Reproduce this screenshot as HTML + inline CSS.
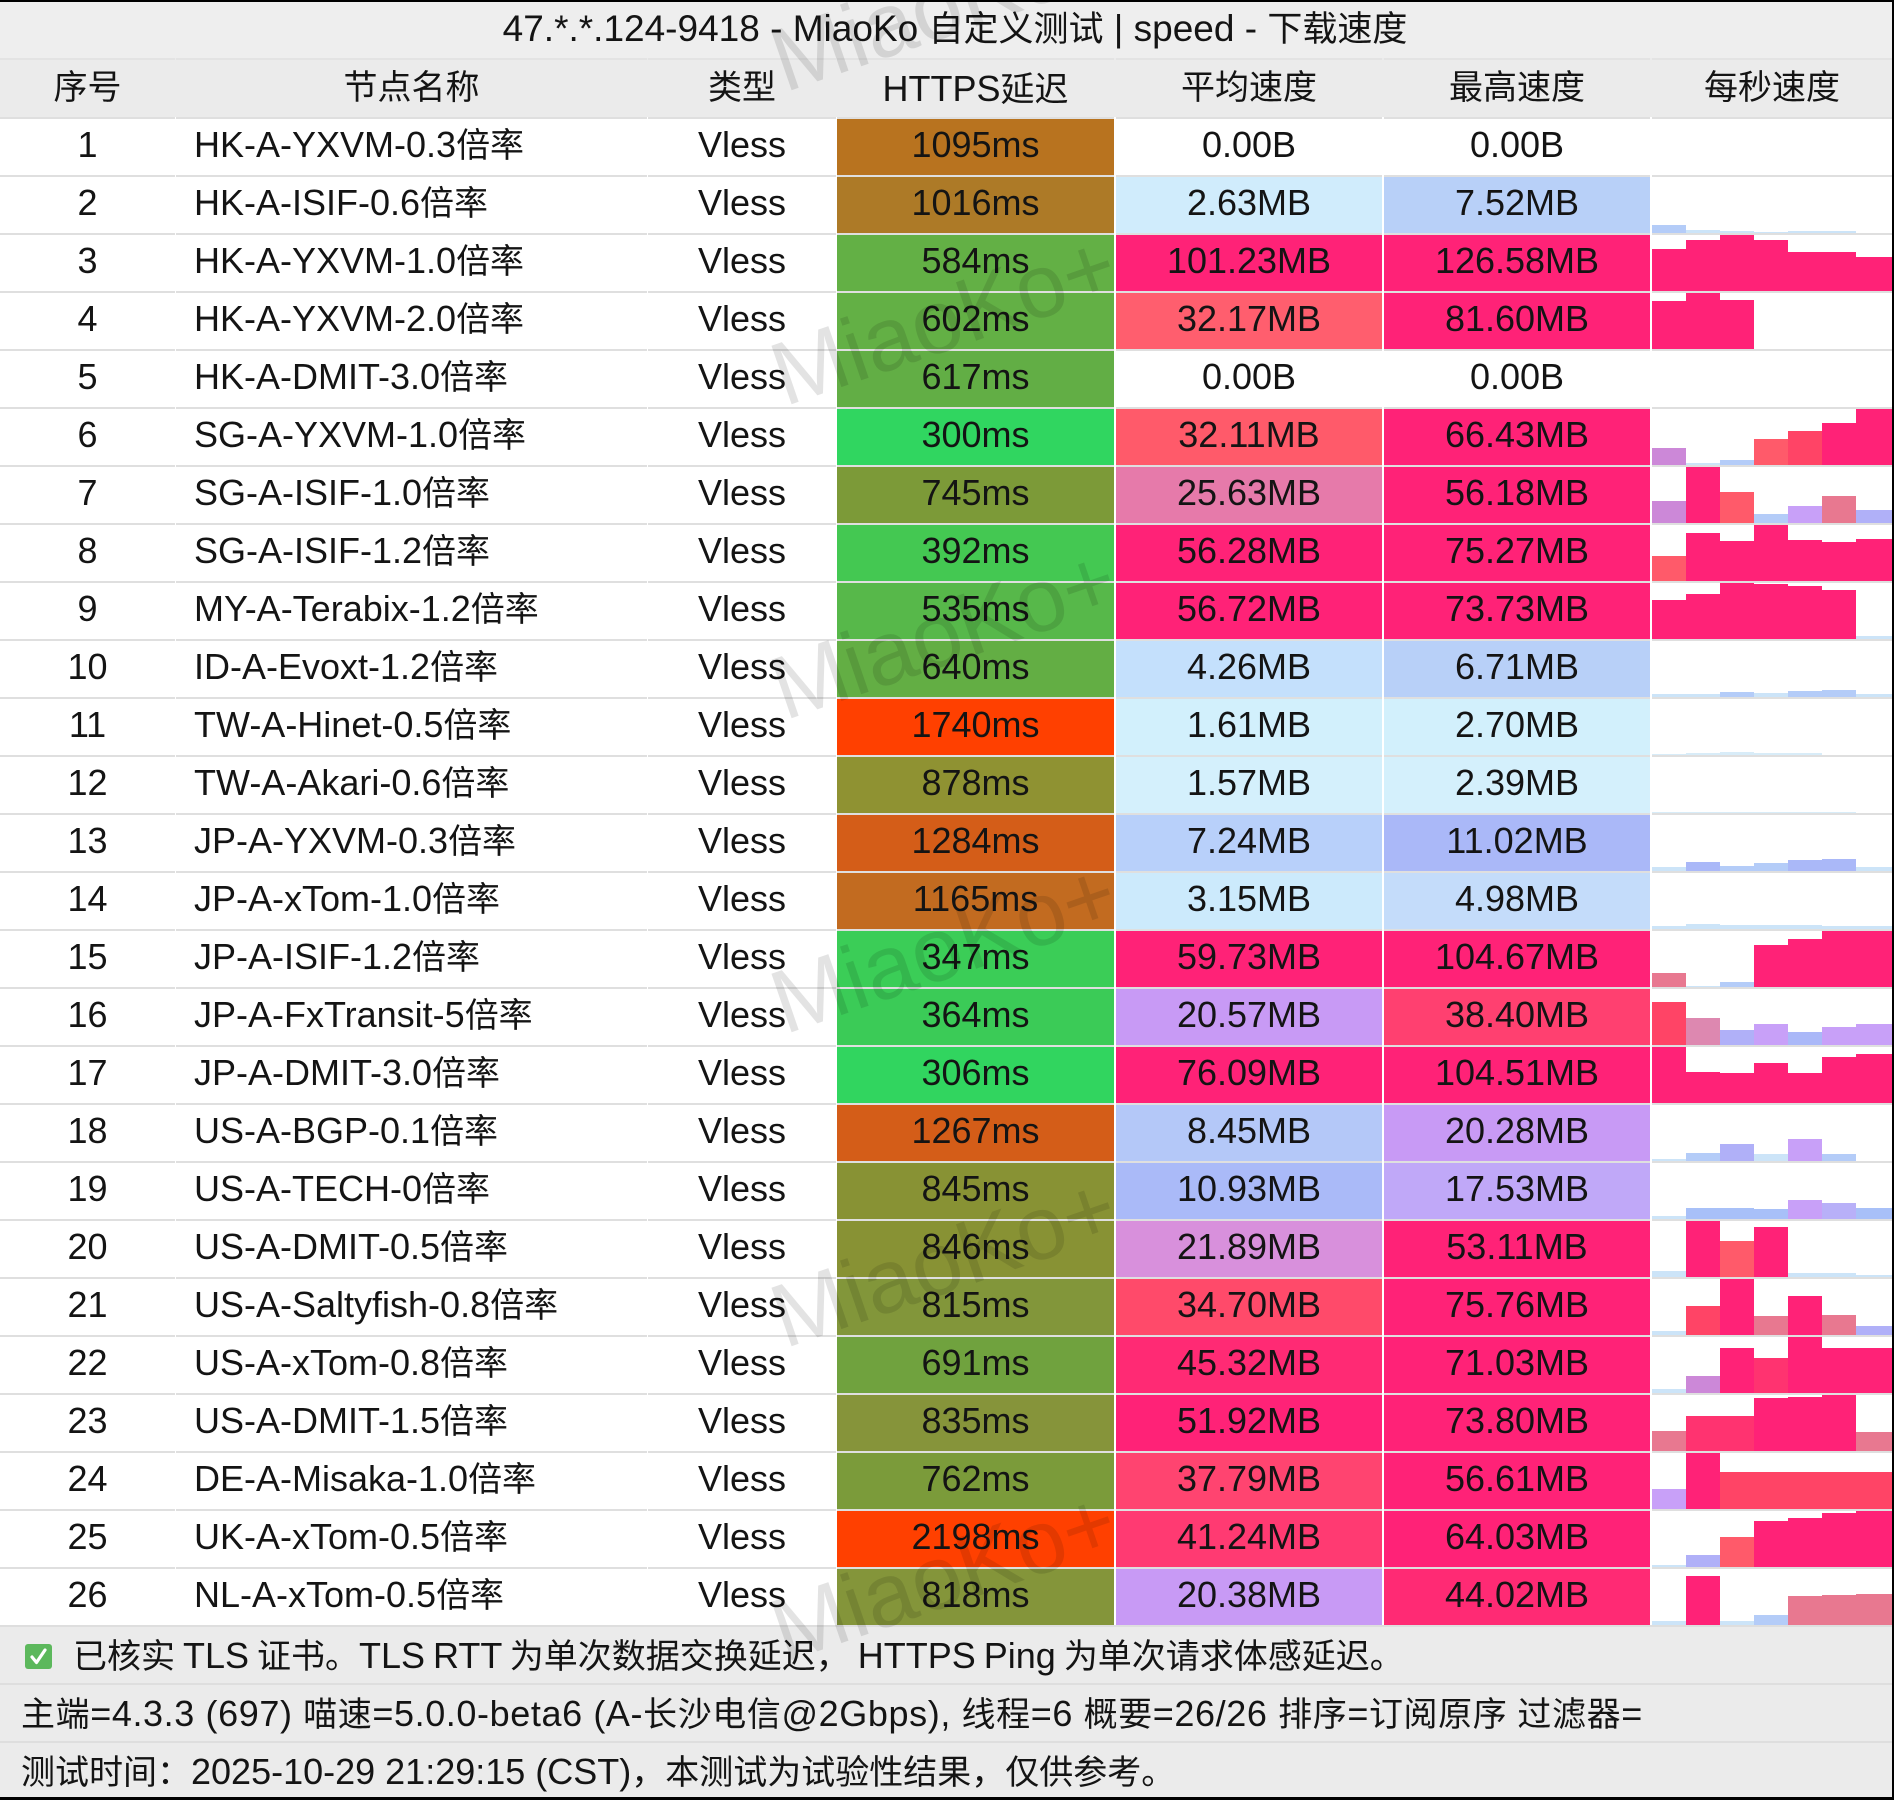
<!DOCTYPE html>
<html><head><meta charset="utf-8">
<style>
html,body{margin:0;padding:0;background:#fff}
body{width:1894px;height:1800px;position:relative;overflow:hidden;font-family:"Liberation Sans","Noto Sans CJK SC",sans-serif;font-size:36px;color:#141414}
.k{font-size:34px}
#title{position:absolute;left:0;top:0;width:1894px;height:58px;background:#eeeeee}
#title div{position:absolute;left:16px;top:2px;width:1878px;text-align:center;line-height:54px;font-size:37px;white-space:nowrap}
#title .k{font-size:35px}
.row{position:absolute;left:0;width:1892px;height:58px}
.row>div{position:absolute;top:0;height:56px;border-top:2px solid #dfdfdf;line-height:51px;text-align:center;white-space:nowrap}
.hdr{background:#ebebeb}
.hdr>div{line-height:57px;height:57px;border-top:2px solid #e3e3e3}
.c0{left:0;width:175px}
.c1{left:176px;width:471px;text-align:left!important;padding-left:18px;box-sizing:border-box}
.c2{left:648px;width:188px}
.c3{left:837px;width:277px}
.c4{left:1116px;width:266px}
.c5{left:1384px;width:266px}
.c6{left:1652px;width:240px}
.c6 b{position:absolute;bottom:0;width:34px;display:block}
.b0{left:0}.b1{left:34px}.b2{left:68px}.b3{left:102px}.b4{left:136px}.b5{left:170px}.b6{left:204px;width:36px!important}
.P{background:#ff2277}.R{background:#ff4466}.C{background:#ff5a6a}.M{background:#e87890}.O{background:#cc88d8}.L{background:#c8a0f8}.V{background:#b0b0f8}.B{background:#b4ccf8}.S{background:#cce4f8}.T{background:#d8ecf8}.W{background:#aab8f8}.Q{background:#ff3370}.D{background:#dd88b0}.E{background:#a8c0f8}.F{background:#b8b0f8}
#foot{position:absolute;left:0;top:1625px;width:1894px;height:175px;background:#ebebeb}
.fl{position:absolute;left:0;width:1894px;height:56px;border-top:2px solid #dedede;line-height:58px;white-space:nowrap}
.wm{position:absolute;left:944px;font-size:90px;color:rgba(0,0,0,0.11);transform:translate(-50%,-50%) rotate(-19deg);white-space:nowrap;pointer-events:none;line-height:1}
</style></head><body>

<div id="title"><div>47.*.*.124-9418 - MiaoKo <span class="k">自定义测试</span> | speed - <span class="k">下载速度</span></div></div>

<div class="row hdr" style="top:58px;height:59px">
<div class="c0 k">序号</div><div class="c1 k" style="text-align:center!important;padding-left:0">节点名称</div><div class="c2 k">类型</div><div class="c3">HTTPS<span class="k">延迟</span></div><div class="c4 k">平均速度</div><div class="c5 k">最高速度</div><div class="c6 k">每秒速度</div>
</div>

<div class="row" style="top:117px"><div class="c0">1</div><div class="c1">HK-A-YXVM-0.3<span class="k">倍率</span></div><div class="c2">Vless</div><div class="c3" style="background:#b8731f">1095ms</div><div class="c4">0.00B</div><div class="c5">0.00B</div><div class="c6"></div></div>

<div class="row" style="top:175px"><div class="c0">2</div><div class="c1">HK-A-ISIF-0.6<span class="k">倍率</span></div><div class="c2">Vless</div><div class="c3" style="background:#ad7a27">1016ms</div><div class="c4" style="background:#d0ecfc">2.63MB</div><div class="c5" style="background:#b8d0f8">7.52MB</div><div class="c6"><b class="b0 B" style="height:8px"></b><b class="b1 S" style="height:3px"></b><b class="b2 S" style="height:2px"></b><b class="b3 S" style="height:1px"></b><b class="b4 S" style="height:2px"></b><b class="b5 S" style="height:2px"></b></div></div>

<div class="row" style="top:233px"><div class="c0">3</div><div class="c1">HK-A-YXVM-1.0<span class="k">倍率</span></div><div class="c2">Vless</div><div class="c3" style="background:#63b045">584ms</div><div class="c4" style="background:#ff2277">101.23MB</div><div class="c5" style="background:#ff2277">126.58MB</div><div class="c6"><b class="b0 P" style="height:42px"></b><b class="b1 P" style="height:51px"></b><b class="b2 P" style="height:56px"></b><b class="b3 P" style="height:51px"></b><b class="b4 P" style="height:39px"></b><b class="b5 P" style="height:39px"></b><b class="b6 P" style="height:34px"></b></div></div>

<div class="row" style="top:291px"><div class="c0">4</div><div class="c1">HK-A-YXVM-2.0<span class="k">倍率</span></div><div class="c2">Vless</div><div class="c3" style="background:#63b045">602ms</div><div class="c4" style="background:#ff5e6e">32.17MB</div><div class="c5" style="background:#ff2277">81.60MB</div><div class="c6"><b class="b0 P" style="height:48px"></b><b class="b1 P" style="height:56px"></b><b class="b2 P" style="height:49px"></b></div></div>

<div class="row" style="top:349px"><div class="c0">5</div><div class="c1">HK-A-DMIT-3.0<span class="k">倍率</span></div><div class="c2">Vless</div><div class="c3" style="background:#62ae45">617ms</div><div class="c4">0.00B</div><div class="c5">0.00B</div><div class="c6"></div></div>

<div class="row" style="top:407px"><div class="c0">6</div><div class="c1">SG-A-YXVM-1.0<span class="k">倍率</span></div><div class="c2">Vless</div><div class="c3" style="background:#30d660">300ms</div><div class="c4" style="background:#ff5a6a">32.11MB</div><div class="c5" style="background:#ff2277">66.43MB</div><div class="c6"><b class="b0 O" style="height:17px"></b><b class="b1 S" style="height:2px"></b><b class="b2 B" style="height:5px"></b><b class="b3 C" style="height:26px"></b><b class="b4 R" style="height:34px"></b><b class="b5 P" style="height:42px"></b><b class="b6 P" style="height:56px"></b></div></div>

<div class="row" style="top:465px"><div class="c0">7</div><div class="c1">SG-A-ISIF-1.0<span class="k">倍率</span></div><div class="c2">Vless</div><div class="c3" style="background:#7c9a38">745ms</div><div class="c4" style="background:#e67aaa">25.63MB</div><div class="c5" style="background:#ff2277">56.18MB</div><div class="c6"><b class="b0 O" style="height:22px"></b><b class="b1 P" style="height:56px"></b><b class="b2 C" style="height:31px"></b><b class="b3 B" style="height:9px"></b><b class="b4 L" style="height:17px"></b><b class="b5 M" style="height:27px"></b><b class="b6 V" style="height:13px"></b></div></div>

<div class="row" style="top:523px"><div class="c0">8</div><div class="c1">SG-A-ISIF-1.2<span class="k">倍率</span></div><div class="c2">Vless</div><div class="c3" style="background:#44c852">392ms</div><div class="c4" style="background:#ff2277">56.28MB</div><div class="c5" style="background:#ff2277">75.27MB</div><div class="c6"><b class="b0 C" style="height:25px"></b><b class="b1 P" style="height:48px"></b><b class="b2 P" style="height:40px"></b><b class="b3 P" style="height:56px"></b><b class="b4 P" style="height:41px"></b><b class="b5 P" style="height:39px"></b><b class="b6 P" style="height:42px"></b></div></div>

<div class="row" style="top:581px"><div class="c0">9</div><div class="c1">MY-A-Terabix-1.2<span class="k">倍率</span></div><div class="c2">Vless</div><div class="c3" style="background:#57b84a">535ms</div><div class="c4" style="background:#ff2277">56.72MB</div><div class="c5" style="background:#ff2277">73.73MB</div><div class="c6"><b class="b0 P" style="height:39px"></b><b class="b1 P" style="height:45px"></b><b class="b2 P" style="height:56px"></b><b class="b3 P" style="height:55px"></b><b class="b4 P" style="height:53px"></b><b class="b5 P" style="height:49px"></b><b class="b6 S" style="height:3px"></b></div></div>

<div class="row" style="top:639px"><div class="c0">10</div><div class="c1">ID-A-Evoxt-1.2<span class="k">倍率</span></div><div class="c2">Vless</div><div class="c3" style="background:#63ae44">640ms</div><div class="c4" style="background:#c4e0fc">4.26MB</div><div class="c5" style="background:#b8d0f8">6.71MB</div><div class="c6"><b class="b0 S" style="height:3px"></b><b class="b1 S" style="height:3px"></b><b class="b2 B" style="height:5px"></b><b class="b3 S" style="height:4px"></b><b class="b4 B" style="height:6px"></b><b class="b5 B" style="height:7px"></b><b class="b6 S" style="height:3px"></b></div></div>

<div class="row" style="top:697px"><div class="c0">11</div><div class="c1">TW-A-Hinet-0.5<span class="k">倍率</span></div><div class="c2">Vless</div><div class="c3" style="background:#ff4000">1740ms</div><div class="c4" style="background:#d2f0fc">1.61MB</div><div class="c5" style="background:#d2f0fc">2.70MB</div><div class="c6"><b class="b0 T" style="height:1px"></b><b class="b1 T" style="height:2px"></b><b class="b2 T" style="height:3px"></b><b class="b3 T" style="height:2px"></b><b class="b4 T" style="height:2px"></b></div></div>

<div class="row" style="top:755px"><div class="c0">12</div><div class="c1">TW-A-Akari-0.6<span class="k">倍率</span></div><div class="c2">Vless</div><div class="c3" style="background:#8f9232">878ms</div><div class="c4" style="background:#d4f0fc">1.57MB</div><div class="c5" style="background:#d4f0fc">2.39MB</div><div class="c6"><b class="b0 T" style="height:1px"></b><b class="b1 T" style="height:1px"></b><b class="b2 T" style="height:1px"></b><b class="b3 T" style="height:1px"></b><b class="b4 T" style="height:1px"></b><b class="b5 T" style="height:1px"></b></div></div>

<div class="row" style="top:813px"><div class="c0">13</div><div class="c1">JP-A-YXVM-0.3<span class="k">倍率</span></div><div class="c2">Vless</div><div class="c3" style="background:#d45d18">1284ms</div><div class="c4" style="background:#b8d0fa">7.24MB</div><div class="c5" style="background:#aab8f8">11.02MB</div><div class="c6"><b class="b0 S" style="height:4px"></b><b class="b1 W" style="height:9px"></b><b class="b2 B" style="height:5px"></b><b class="b3 B" style="height:8px"></b><b class="b4 W" style="height:11px"></b><b class="b5 W" style="height:12px"></b><b class="b6 S" style="height:4px"></b></div></div>

<div class="row" style="top:871px"><div class="c0">14</div><div class="c1">JP-A-xTom-1.0<span class="k">倍率</span></div><div class="c2">Vless</div><div class="c3" style="background:#c26b20">1165ms</div><div class="c4" style="background:#cceafc">3.15MB</div><div class="c5" style="background:#c4dcfa">4.98MB</div><div class="c6"><b class="b0 S" style="height:3px"></b><b class="b1 S" style="height:5px"></b><b class="b2 S" style="height:4px"></b><b class="b3 S" style="height:4px"></b><b class="b4 S" style="height:4px"></b><b class="b5 S" style="height:3px"></b><b class="b6 S" style="height:3px"></b></div></div>

<div class="row" style="top:929px"><div class="c0">15</div><div class="c1">JP-A-ISIF-1.2<span class="k">倍率</span></div><div class="c2">Vless</div><div class="c3" style="background:#3bcd57">347ms</div><div class="c4" style="background:#ff2277">59.73MB</div><div class="c5" style="background:#ff2277">104.67MB</div><div class="c6"><b class="b0 M" style="height:14px"></b><b class="b1 S" style="height:1px"></b><b class="b2 B" style="height:5px"></b><b class="b3 P" style="height:42px"></b><b class="b4 P" style="height:48px"></b><b class="b5 P" style="height:56px"></b><b class="b6 P" style="height:56px"></b></div></div>

<div class="row" style="top:987px"><div class="c0">16</div><div class="c1">JP-A-FxTransit-5<span class="k">倍率</span></div><div class="c2">Vless</div><div class="c3" style="background:#3bcb57">364ms</div><div class="c4" style="background:#c89af5">20.57MB</div><div class="c5" style="background:#ff4070">38.40MB</div><div class="c6"><b class="b0 R" style="height:43px"></b><b class="b1 D" style="height:27px"></b><b class="b2 V" style="height:15px"></b><b class="b3 L" style="height:21px"></b><b class="b4 W" style="height:13px"></b><b class="b5 L" style="height:18px"></b><b class="b6 L" style="height:21px"></b></div></div>

<div class="row" style="top:1045px"><div class="c0">17</div><div class="c1">JP-A-DMIT-3.0<span class="k">倍率</span></div><div class="c2">Vless</div><div class="c3" style="background:#31d55f">306ms</div><div class="c4" style="background:#ff2277">76.09MB</div><div class="c5" style="background:#ff2277">104.51MB</div><div class="c6"><b class="b0 P" style="height:56px"></b><b class="b1 P" style="height:31px"></b><b class="b2 P" style="height:30px"></b><b class="b3 P" style="height:40px"></b><b class="b4 P" style="height:30px"></b><b class="b5 P" style="height:46px"></b><b class="b6 P" style="height:49px"></b></div></div>

<div class="row" style="top:1103px"><div class="c0">18</div><div class="c1">US-A-BGP-0.1<span class="k">倍率</span></div><div class="c2">Vless</div><div class="c3" style="background:#d45d18">1267ms</div><div class="c4" style="background:#b4c8f8">8.45MB</div><div class="c5" style="background:#c89af5">20.28MB</div><div class="c6"><b class="b0 S" style="height:2px"></b><b class="b1 B" style="height:8px"></b><b class="b2 V" style="height:17px"></b><b class="b3 S" style="height:7px"></b><b class="b4 L" style="height:22px"></b><b class="b5 B" style="height:7px"></b></div></div>

<div class="row" style="top:1161px"><div class="c0">19</div><div class="c1">US-A-TECH-0<span class="k">倍率</span></div><div class="c2">Vless</div><div class="c3" style="background:#889234">845ms</div><div class="c4" style="background:#aabaf8">10.93MB</div><div class="c5" style="background:#c0a8f8">17.53MB</div><div class="c6"><b class="b0 S" style="height:3px"></b><b class="b1 E" style="height:11px"></b><b class="b2 E" style="height:11px"></b><b class="b3 E" style="height:10px"></b><b class="b4 L" style="height:19px"></b><b class="b5 F" style="height:16px"></b><b class="b6 E" style="height:11px"></b></div></div>

<div class="row" style="top:1219px"><div class="c0">20</div><div class="c1">US-A-DMIT-0.5<span class="k">倍率</span></div><div class="c2">Vless</div><div class="c3" style="background:#889234">846ms</div><div class="c4" style="background:#d890dc">21.89MB</div><div class="c5" style="background:#ff2277">53.11MB</div><div class="c6"><b class="b0 S" style="height:6px"></b><b class="b1 P" style="height:56px"></b><b class="b2 C" style="height:36px"></b><b class="b3 P" style="height:50px"></b><b class="b4 S" style="height:4px"></b><b class="b5 S" style="height:4px"></b><b class="b6 S" style="height:2px"></b></div></div>

<div class="row" style="top:1277px"><div class="c0">21</div><div class="c1">US-A-Saltyfish-0.8<span class="k">倍率</span></div><div class="c2">Vless</div><div class="c3" style="background:#82963a">815ms</div><div class="c4" style="background:#ff4a6a">34.70MB</div><div class="c5" style="background:#ff2277">75.76MB</div><div class="c6"><b class="b0 S" style="height:4px"></b><b class="b1 R" style="height:29px"></b><b class="b2 P" style="height:56px"></b><b class="b3 M" style="height:19px"></b><b class="b4 P" style="height:39px"></b><b class="b5 M" style="height:20px"></b><b class="b6 V" style="height:9px"></b></div></div>

<div class="row" style="top:1335px"><div class="c0">22</div><div class="c1">US-A-xTom-0.8<span class="k">倍率</span></div><div class="c2">Vless</div><div class="c3" style="background:#70a23e">691ms</div><div class="c4" style="background:#ff2a74">45.32MB</div><div class="c5" style="background:#ff2277">71.03MB</div><div class="c6"><b class="b0 S" style="height:4px"></b><b class="b1 O" style="height:17px"></b><b class="b2 P" style="height:45px"></b><b class="b3 Q" style="height:35px"></b><b class="b4 P" style="height:56px"></b><b class="b5 P" style="height:45px"></b><b class="b6 P" style="height:45px"></b></div></div>

<div class="row" style="top:1393px"><div class="c0">23</div><div class="c1">US-A-DMIT-1.5<span class="k">倍率</span></div><div class="c2">Vless</div><div class="c3" style="background:#86943a">835ms</div><div class="c4" style="background:#ff2277">51.92MB</div><div class="c5" style="background:#ff2277">73.80MB</div><div class="c6"><b class="b0 M" style="height:20px"></b><b class="b1 Q" style="height:35px"></b><b class="b2 Q" style="height:35px"></b><b class="b3 P" style="height:53px"></b><b class="b4 P" style="height:54px"></b><b class="b5 P" style="height:56px"></b><b class="b6 M" style="height:19px"></b></div></div>

<div class="row" style="top:1451px"><div class="c0">24</div><div class="c1">DE-A-Misaka-1.0<span class="k">倍率</span></div><div class="c2">Vless</div><div class="c3" style="background:#7b9b3a">762ms</div><div class="c4" style="background:#ff4470">37.79MB</div><div class="c5" style="background:#ff2277">56.61MB</div><div class="c6"><b class="b0 L" style="height:20px"></b><b class="b1 P" style="height:56px"></b><b class="b2 R" style="height:37px"></b><b class="b3 R" style="height:37px"></b><b class="b4 R" style="height:37px"></b><b class="b5 R" style="height:37px"></b><b class="b6 R" style="height:37px"></b></div></div>

<div class="row" style="top:1509px"><div class="c0">25</div><div class="c1">UK-A-xTom-0.5<span class="k">倍率</span></div><div class="c2">Vless</div><div class="c3" style="background:#ff4000">2198ms</div><div class="c4" style="background:#ff3a72">41.24MB</div><div class="c5" style="background:#ff2277">64.03MB</div><div class="c6"><b class="b0 S" style="height:2px"></b><b class="b1 V" style="height:12px"></b><b class="b2 C" style="height:30px"></b><b class="b3 P" style="height:46px"></b><b class="b4 P" style="height:49px"></b><b class="b5 P" style="height:54px"></b><b class="b6 P" style="height:56px"></b></div></div>

<div class="row" style="top:1567px"><div class="c0">26</div><div class="c1">NL-A-xTom-0.5<span class="k">倍率</span></div><div class="c2">Vless</div><div class="c3" style="background:#84953a">818ms</div><div class="c4" style="background:#c89af5">20.38MB</div><div class="c5" style="background:#ff2a74">44.02MB</div><div class="c6"><b class="b0 S" style="height:4px"></b><b class="b1 P" style="height:49px"></b><b class="b2 S" style="height:4px"></b><b class="b3 B" style="height:10px"></b><b class="b4 M" style="height:29px"></b><b class="b5 M" style="height:30px"></b><b class="b6 M" style="height:31px"></b></div></div>

<div id="foot">
<div class="fl" style="top:0">
<div style="position:absolute;left:25px;top:17px;width:27px;height:25px;background:#5cb85c;border-radius:3px;line-height:0"><svg style="display:block" width="27" height="25" viewBox="0 0 27 25"><polyline points="7,13 11.5,18.5 20,6" fill="none" stroke="#fff" stroke-width="3.2" stroke-linecap="round" stroke-linejoin="round"/></svg></div>
<div style="position:absolute;left:73px;top:0;word-spacing:-2px"><span class="k">已核实</span> TLS <span class="k">证书。</span>TLS RTT <span class="k">为单次数据交换延迟，</span> HTTPS Ping <span class="k">为单次请求体感延迟。</span></div>
</div>
<div class="fl" style="top:58px"><div style="position:absolute;left:21px;top:0;letter-spacing:0.6px"><span class="k">主端</span>=4.3.3 (697) <span class="k">喵速</span>=5.0.0-beta6 (A-<span class="k">长沙电信</span>@2Gbps), <span class="k">线程</span>=6 <span class="k">概要</span>=26/26 <span class="k">排序</span>=<span class="k">订阅原序 过滤器</span>=</div></div>
<div class="fl" style="top:116px;height:57px"><div style="position:absolute;left:21px;top:0"><span class="k">测试时间：</span>2025-10-29 21:29:15 (CST)<span class="k">，本测试为试验性结果，仅供参考。</span></div></div>
</div>

<div class="wm" style="top:6px">MiaoKo+</div>
<div class="wm" style="top:320px">MiaoKo+</div>
<div class="wm" style="top:634px">MiaoKo+</div>
<div class="wm" style="top:948px">MiaoKo+</div>
<div class="wm" style="top:1262px">MiaoKo+</div>
<div class="wm" style="top:1576px">MiaoKo+</div>

<div style="position:absolute;left:0;top:0;width:1894px;height:2px;background:#000"></div>
<div style="position:absolute;left:1892px;top:0;width:2px;height:1800px;background:#000"></div>
<div style="position:absolute;left:0;top:1797px;width:1894px;height:3px;background:#000"></div>
</body></html>
